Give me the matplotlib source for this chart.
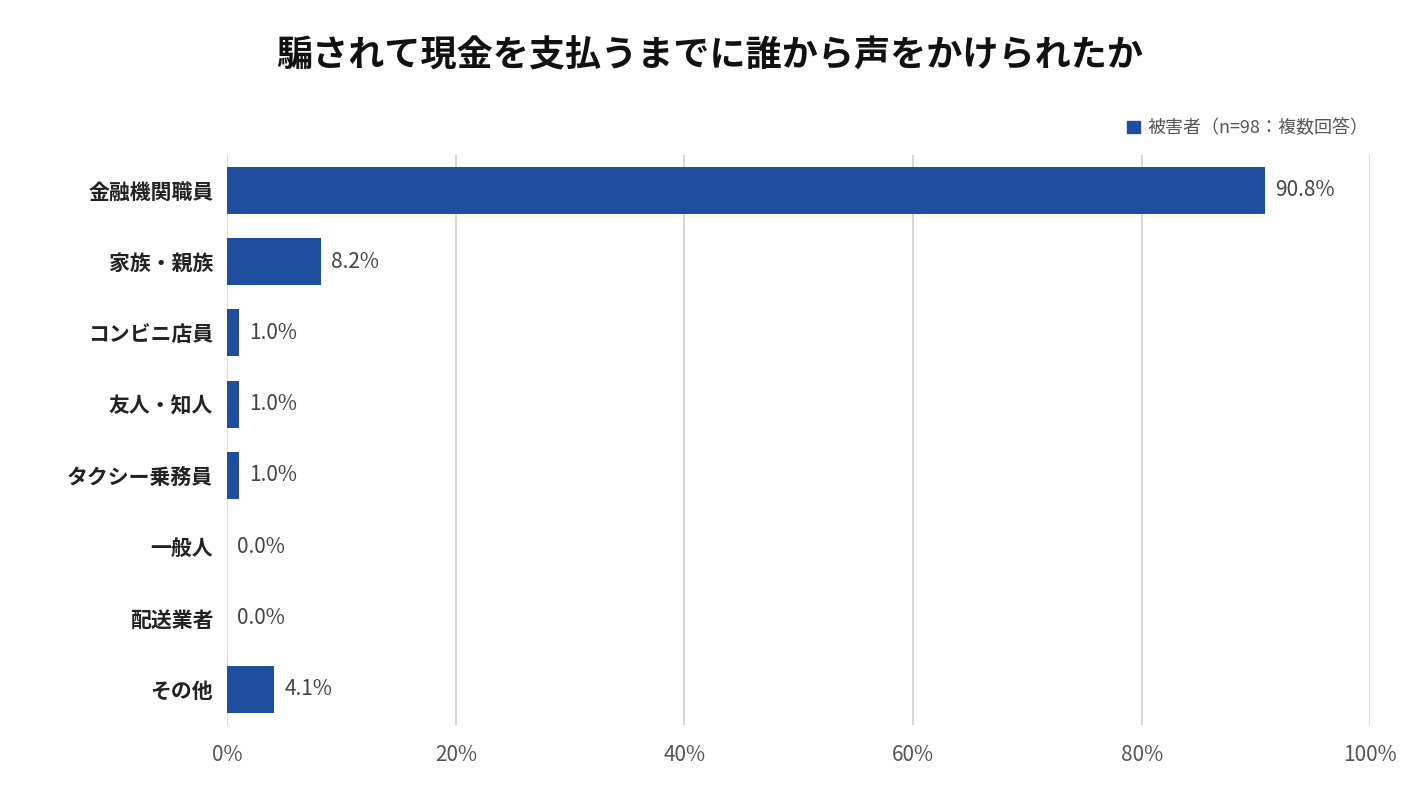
import matplotlib
matplotlib.use("Agg")
import matplotlib.pyplot as plt
from matplotlib.patches import Patch

plt.rcParams["font.family"] = "Noto Sans CJK JP"

categories = ["金融機関職員", "家族・親族", "コンビニ店員", "友人・知人", "タクシー乗務員", "一般人", "配送業者", "その他"]
values = [90.8, 8.2, 1.0, 1.0, 1.0, 0.0, 0.0, 4.1]
xticks = [0, 20, 40, 60, 80, 100]
xticklabels = ["0%", "20%", "40%", "60%", "80%", "100%"]
title = "騙されて現金を支払うまでに誰から声をかけられたか"
legend_label = "被害者（n=98：複数回答）"

color = "#1f4e9e"
fig = plt.figure(figsize=(14.2, 7.93), dpi=100)
ax = fig.add_axes([0.16, 0.086, 0.805, 0.719])
y = list(range(len(categories)))
ax.barh(y, values, height=0.66, color=color, zorder=3)
ax.set_ylim(len(categories) - 0.5, -0.5)
ax.set_xlim(0, 100)
ax.set_yticks(y)
ax.set_yticklabels(categories, fontsize=15, fontweight="bold", color="#222222")
ax.set_xticks(xticks)
ax.set_xticklabels(xticklabels, fontsize=15, color="#555555")
ax.tick_params(length=0, pad=10)
ax.tick_params(axis="x", pad=14)
ax.grid(axis="x", color="#d0d0d0", linewidth=1.2, zorder=0)
for s in ax.spines.values():
    s.set_visible(False)
for yi, v in zip(y, values):
    ax.text(v + 0.9, yi, f"{v:.1f}%", va="center", ha="left", fontsize=15, color="#444444")
fig.text(0.5, 0.93, title, ha="center", va="center", fontsize=26, fontweight="bold", color="#111111")
fig.legend(handles=[Patch(color=color)], labels=[legend_label], loc="center right",
           bbox_to_anchor=(0.975, 0.838), frameon=False, fontsize=13, handlelength=0.7,
           handleheight=0.7, handletextpad=0.4, labelcolor="#555555")
fig.savefig("out.png", dpi=100)
